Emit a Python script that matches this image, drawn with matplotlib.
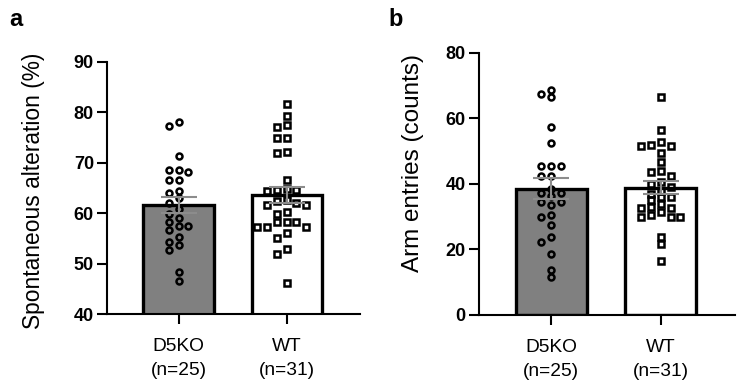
import numpy as np
import matplotlib.pyplot as plt

plt.rcParams["font.family"] = ["Liberation Sans", "DejaVu Sans"]

groups = ["D5KO\n(n=25)", "WT\n(n=31)"]
bar_colors = ["#808080", "white"]
markers = ["o", "s"]

# panel a: spontaneous alteration (%)
alt_d5ko = [78.0, 77.3, 71.3, 68.6, 68.1, 68.6, 66.6, 66.6, 63.9, 64.3, 63.0, 62.0, 60.8,
            59.8, 59.0, 58.3, 57.5, 56.7, 57.4, 55.2, 53.7, 54.2, 52.7, 48.3, 46.6]
alt_wt = [81.7, 79.3, 77.0, 77.5, 74.9, 74.9, 71.9, 72.2, 66.6, 64.8, 64.5, 64.6, 64.4,
          61.6, 62.5, 61.6, 62.6, 62.0, 60.3, 59.8, 58.3, 57.2, 58.3, 57.2, 56.1, 58.3,
          57.2, 55.1, 51.9, 52.8, 46.2]

# panel b: arm entries (counts)
arm_d5ko = [67.5, 68.7, 66.7, 57.5, 52.6, 45.5, 45.5, 45.5, 42.4, 42.4, 37.3, 38.5, 37.3,
            36.3, 34.6, 33.6, 34.6, 30.0, 30.5, 27.5, 23.7, 22.4, 18.6, 13.7, 11.7]
arm_wt = [66.7, 56.5, 52.7, 51.6, 51.6, 49.6, 46.8, 43.8, 42.5, 40.7, 52.0, 44.0, 40.0,
          39.0, 38.0, 37.0, 36.0, 36.0, 35.0, 34.0, 32.8, 30.5, 32.6, 30.0, 33.1, 31.5,
          29.8, 30.0, 23.9, 21.7, 16.6]


def swarm(vals, step, gap):
    vals = np.asarray(vals)
    xs = np.zeros(len(vals))
    cols = {}
    for i in np.argsort(vals)[::-1]:
        for k in [0, -1, 1, -2, 2, -3, 3]:
            if all(abs(vals[i] - y) >= gap for y in cols.get(k, [])):
                break
        cols.setdefault(k, []).append(vals[i])
        xs[i] = k * step
    return xs


def panel(ax, data, ylim, yticks, ylabel, gap, label_size, label_xy):
    for i, vals in enumerate(data):
        vals = np.asarray(vals)
        mean = vals.mean()
        sem = vals.std(ddof=1) / np.sqrt(len(vals))
        ax.bar(i, mean, width=0.65, color=bar_colors[i], edgecolor="black",
               linewidth=2.4, zorder=1)
        ax.plot(i + swarm(vals, 0.09, gap), vals, linestyle="none", marker=markers[i],
                markersize=4.3, markerfacecolor="none", markeredgecolor="black",
                markeredgewidth=1.8, zorder=2)
        ax.errorbar(i, mean, yerr=sem, color="#8c8c8c", capsize=13, capthick=1.5,
                    elinewidth=1.5, zorder=3)
    ax.set_xlim(-0.66, 1.68)
    ax.set_ylim(*ylim)
    ax.set_yticks(yticks)
    ax.set_xticks([0, 1], labels=groups)
    ax.set_ylabel(ylabel, fontsize=label_size)
    ax.yaxis.set_label_coords(*label_xy)
    for s in ["top", "right"]:
        ax.spines[s].set_visible(False)
    for s in ["left", "bottom"]:
        ax.spines[s].set_linewidth(1.5)
    ax.tick_params(axis="both", length=7, width=1.5)
    ax.tick_params(axis="y", labelsize=13, pad=2.5)
    ax.tick_params(axis="x", labelsize=13.8, pad=10)
    for t in ax.get_yticklabels():
        t.set_fontweight("bold")
    for t in ax.get_xticklabels():
        t.set_linespacing(1.6)


fig = plt.figure(figsize=(7.49, 3.82), dpi=100)
ax1 = fig.add_axes([0.143, 0.178, 0.338, 0.660])
ax2 = fig.add_axes([0.6395, 0.1754, 0.342, 0.686])

panel(ax1, [alt_d5ko, alt_wt], (40, 90), range(40, 91, 10), "Spontaneous alteration (%)",
      1.2, 16.4, (-0.245, 0.49))
panel(ax2, [arm_d5ko, arm_wt], (0, 80), range(0, 81, 20), "Arm entries (counts)",
      1.8, 17.5, (-0.213, 0.58))

fig.text(0.012, 0.948, "a", fontsize=17, fontweight="bold", va="center")
fig.text(0.518, 0.948, "b", fontsize=17, fontweight="bold", va="center")

fig.savefig("out.png", dpi=100)
